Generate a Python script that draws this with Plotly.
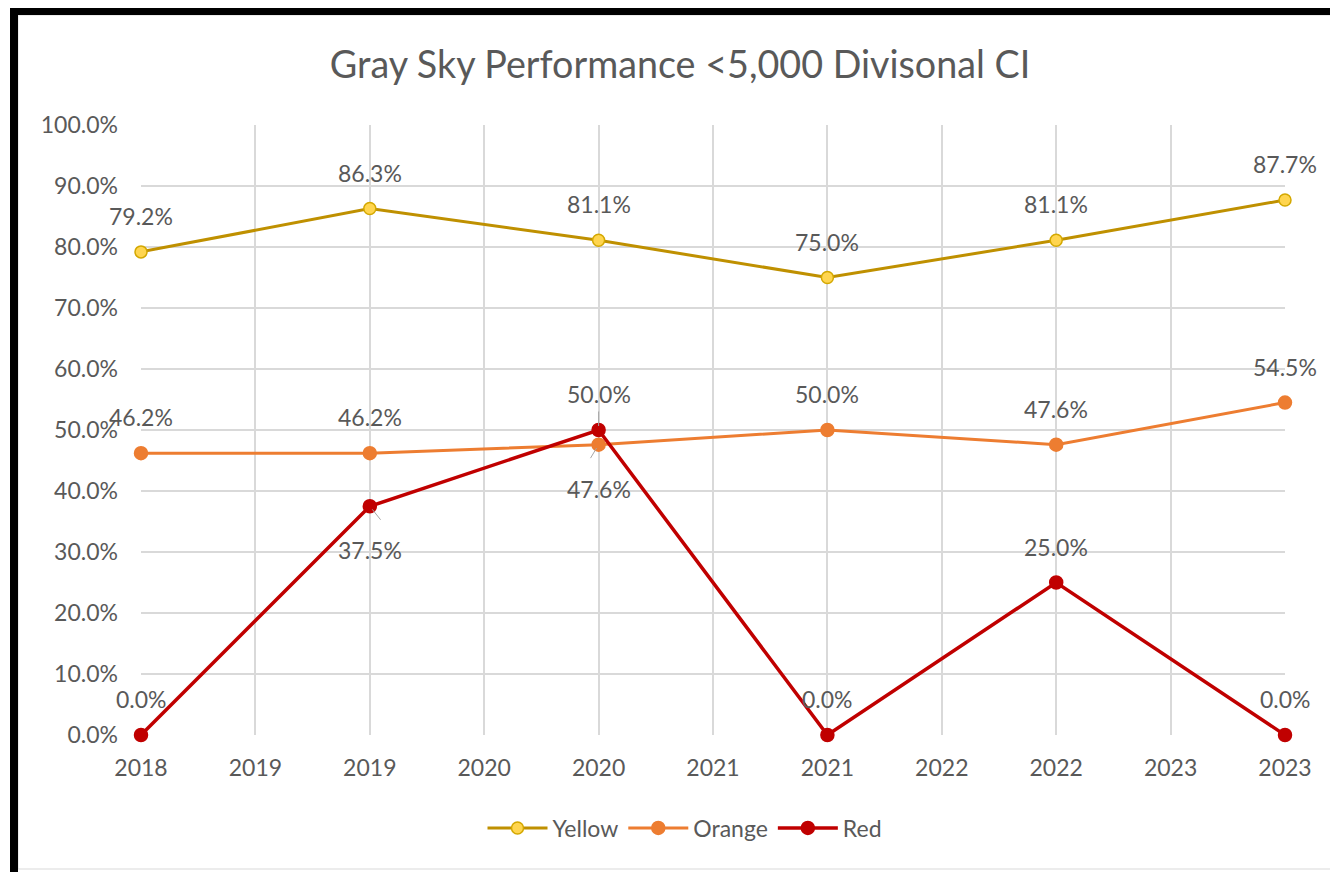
import plotly.graph_objects as go

categories = ["2018", "2019", "2019", "2020", "2020", "2021", "2021", "2022", "2022", "2023", "2023"]
point_idx = [0, 2, 4, 6, 8, 10]
yellow = [79.2, 86.3, 81.1, 75.0, 81.1, 87.7]
orange = [46.2, 46.2, 47.6, 50.0, 47.6, 54.5]
red = [0.0, 37.5, 50.0, 0.0, 25.0, 0.0]
# label placement: +1 above, -1 below
yellow_pos = [1, 1, 1, 1, 1, 1]
orange_pos = [1, 1, -1, 1, 1, 1]
red_pos = [1, -1, 1, 1, 1, 1]
y_ticks = [0, 10, 20, 30, 40, 50, 60, 70, 80, 90, 100]

FONT = "Lato"
GRAY = "#595959"
FS = 23

series = [
    ("Yellow", yellow, yellow_pos, "#BF9000", "#FFD54F", "#D4A800", 3, 12),
    ("Orange", orange, orange_pos, "#ED7D31", "#ED7D31", "#ED7D31", 3, 13),
    ("Red", red, red_pos, "#C00000", "#C00000", "#C00000", 3.5, 13),
]

# leader lines (series name, point index, pixel offset of label end)
leaders = [("Red", 1, 12, 15), ("Orange", 2, -9, 15), ("Red", 2, 0, -20)]

# page has an 8px body margin; the figure is offset by it
OFF = 8
W, H = 1338 - OFF, 872 - OFF

fig = go.Figure()
annotations = []
data_by_name = {}
for name, vals, pos, lc, mfill, mline, lw, ms in series:
    data_by_name[name] = vals
    fig.add_trace(go.Scatter(
        x=point_idx, y=vals, name=name, mode="lines+markers",
        line=dict(color=lc, width=lw),
        marker=dict(size=ms, color=mfill, line=dict(color=mline, width=1.5)),
        cliponaxis=False,
    ))
    for xi, v, p in zip(point_idx, vals, pos):
        annotations.append(dict(
            x=xi, y=v, xref="x", yref="y", text=f"{v:.1f}%", showarrow=False,
            yshift=36 if p > 0 else -44,
            font=dict(family=FONT, size=FS, color=GRAY),
        ))

for name, i, ax, ay in leaders:
    annotations.append(dict(
        x=point_idx[i], y=data_by_name[name][i], xref="x", yref="y", text="",
        showarrow=True, arrowhead=0, arrowwidth=1, arrowcolor="#A6A6A6",
        ax=ax, ay=ay, standoff=4,
    ))

PL, PT, PB, PR = 141 - OFF, 125 - OFF, 735 - OFF, 1285 - OFF


def xp(px):
    return (px - OFF - PL) / (PR - PL)


def yp(py):
    return (PB - (py - OFF)) / (PB - PT)


shapes = [
    dict(type="rect", xref="paper", yref="paper", x0=xp(18), x1=xp(1345), y0=yp(869), y1=yp(15),
         line=dict(color="#D9D9D9", width=1), fillcolor="rgba(0,0,0,0)", layer="below"),
    dict(type="rect", xref="paper", yref="paper", x0=xp(10), x1=xp(18), y0=yp(880), y1=yp(7),
         line=dict(width=0), fillcolor="black"),
    dict(type="rect", xref="paper", yref="paper", x0=xp(10), x1=xp(1345), y0=yp(15), y1=yp(7),
         line=dict(width=0), fillcolor="black"),
]

fig.update_layout(
    width=W, height=H,
    margin=dict(l=PL, r=W - PR, t=PT, b=H - PB),
    paper_bgcolor="white", plot_bgcolor="white",
    title=dict(text="Gray Sky Performance <5,000 Divisonal CI", x=xp(680), xref="paper",
               xanchor="center", y=1 - (65 - OFF) / H, yanchor="middle",
               font=dict(family=FONT, size=37.7, color=GRAY)),
    xaxis=dict(range=[0, 10], tickmode="array", tickvals=list(range(len(categories))),
               ticktext=categories, showgrid=True, gridcolor="#D9D9D9", gridwidth=1.5,
               zeroline=False, showline=False, ticks="", ticklabelstandoff=17,
               tickfont=dict(family=FONT, size=FS, color=GRAY)),
    yaxis=dict(range=[0, 100], tickmode="array", tickvals=y_ticks,
               ticktext=[f"{t:.1f}%" for t in y_ticks], showgrid=True, gridcolor="#D9D9D9",
               gridwidth=1.5, zeroline=False, showline=False, ticks="", ticklabelstandoff=22,
               tickfont=dict(family=FONT, size=FS, color=GRAY)),
    legend=dict(orientation="h", x=xp(685), xanchor="center", y=yp(828), yanchor="middle",
                font=dict(family=FONT, size=FS, color=GRAY), itemwidth=60,
                tracegroupgap=0),
    showlegend=True,
    annotations=annotations,
    shapes=shapes,
)

fig.write_html("out.html")
